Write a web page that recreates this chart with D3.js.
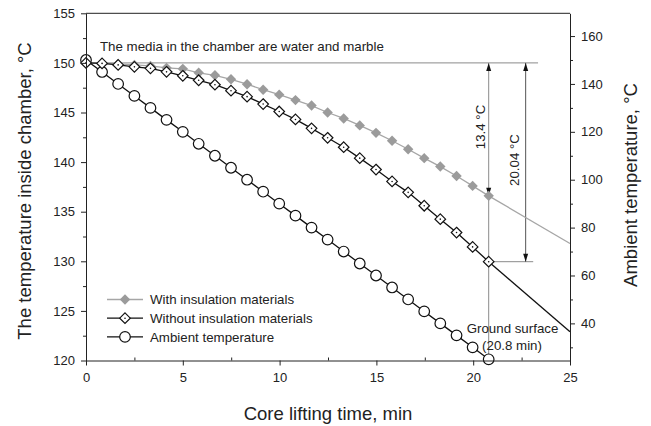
<!DOCTYPE html>
<html lang="en">
<head>
    <meta charset="UTF-8">
    <title>Chamber temperature vs core lifting time</title>
    <script src="https://d3js.org/d3.v7.min.js"></script>
    <style>
        body {
            margin: 0;
            background-color: #fff;
        }
        svg {
            font-family: Arial, "Liberation Sans", sans-serif;
        }
        .axis text {
            font-size: 13px;
            fill: #222;
        }
        .axis path, .axis line {
            stroke: #222;
        }
    </style>
</head>
<body>
    <div id="chart"></div>

    <script>
        // lifting time of each measured point, min
        const time = [0, 0.83, 1.66, 2.5, 3.33, 4.16, 5, 5.82, 6.66, 7.49, 8.32, 9.15, 9.98,
            10.82, 11.65, 12.48, 13.31, 14.14, 14.98, 15.81, 16.64, 17.47, 18.3, 19.14, 19.97, 20.8];
        // temperature inside the chamber, °C (left axis)
        const withInsulation = [150, 150, 149.9, 149.8, 149.7, 149.5, 149.4, 149.0, 148.75, 148.35, 147.85,
            147.3, 146.8, 146.25, 145.7, 145.0, 144.4, 143.7, 142.95, 142.15, 141.3, 140.4, 139.55, 138.6, 137.6, 136.6];
        const withoutInsulation = [150, 149.95, 149.8, 149.6, 149.45, 149.1, 148.7, 148.25, 147.8, 147.2, 146.6,
            145.85, 145.1, 144.3, 143.4, 142.45, 141.5, 140.4, 139.25, 138.05, 136.95, 135.6, 134.25, 132.9, 131.45, 129.96];
        // ambient temperature, °C (right axis)
        const ambient = [150, 145, 140, 135, 130, 125, 120, 115, 110, 105, 100, 95, 90,
            85, 80, 75, 70, 65, 60, 55, 50, 45, 40, 35, 30, 25];
        // trend lines carried on past the ground surface
        const extendTime = [20.8, 25];
        const withExtend = [136.6, 131.8];
        const withoutExtend = [129.96, 122.9];

        const leftTicks = [120, 125, 130, 135, 140, 145, 150, 155];
        const rightTicks = [40, 60, 80, 100, 120, 140, 160];
        const xTicks = [0, 5, 10, 15, 20, 25];

        const width = 651;
        const height = 426;
        const margin = { top: 13.3, right: 81, bottom: 65.5, left: 86 };

        const svg = d3.select("#chart")
            .append("svg")
            .attr("width", width)
            .attr("height", height);

        const x = d3.scaleLinear()
            .domain([0, 25])
            .range([margin.left, width - margin.right]);

        const y = d3.scaleLinear()
            .domain([120, 155])
            .range([height - margin.bottom, margin.top]);

        const y2 = d3.scaleLinear()
            .domain([24.5, 169.5])
            .range([height - margin.bottom, margin.top]);

        const x0 = margin.left, x1 = width - margin.right;
        const yTop = margin.top, yBot = height - margin.bottom;

        // top frame line
        svg.append("line")
            .attr("x1", x0).attr("x2", x1)
            .attr("y1", yTop).attr("y2", yTop)
            .attr("stroke", "#222");

        // annotation lines
        const annoColor = "#8a8a8a";
        svg.append("line")
            .attr("x1", x(0)).attr("x2", x(23.35))
            .attr("y1", y(150)).attr("y2", y(150))
            .attr("stroke", annoColor);
        svg.append("line")
            .attr("x1", x(20.8)).attr("x2", x(23.1))
            .attr("y1", y(129.96)).attr("y2", y(129.96))
            .attr("stroke", annoColor);
        svg.append("line")
            .attr("x1", x(20.8)).attr("x2", x(20.8))
            .attr("y1", y(150)).attr("y2", yBot)
            .attr("stroke", annoColor);
        svg.append("line")
            .attr("x1", x(22.71)).attr("x2", x(22.71))
            .attr("y1", y(150)).attr("y2", y(129.96))
            .attr("stroke", "#555");

        function arrowHead(xv, yv, dir) {
            const px = x(xv), py = y(yv);
            svg.append("path")
                .attr("d", `M${px},${py} L${px - 2.5},${py + dir * 8} L${px + 2.5},${py + dir * 8} Z`)
                .attr("fill", "#111");
        }
        arrowHead(20.8, 150, 1);
        arrowHead(20.8, 136.6, -1);
        arrowHead(22.71, 150, 1);
        arrowHead(22.71, 129.96, -1);

        // series lines
        const lineL = d3.line().x(d => x(d[0])).y(d => y(d[1]));
        const lineR = d3.line().x(d => x(d[0])).y(d => y2(d[1]));

        svg.append("path")
            .datum(d3.zip(extendTime, withExtend))
            .attr("d", lineL).attr("fill", "none")
            .attr("stroke", "#a6a6a6").attr("stroke-width", 1.3);
        svg.append("path")
            .datum(d3.zip(time, withInsulation))
            .attr("d", lineL).attr("fill", "none")
            .attr("stroke", "#a6a6a6").attr("stroke-width", 1.3);

        svg.append("path")
            .datum(d3.zip(extendTime, withoutExtend))
            .attr("d", lineL).attr("fill", "none")
            .attr("stroke", "#111").attr("stroke-width", 1.3);
        svg.append("path")
            .datum(d3.zip(time, withoutInsulation))
            .attr("d", lineL).attr("fill", "none")
            .attr("stroke", "#111").attr("stroke-width", 1.3);

        svg.append("path")
            .datum(d3.zip(time, ambient))
            .attr("d", lineR).attr("fill", "none")
            .attr("stroke", "#111").attr("stroke-width", 1.3);

        // markers
        const diamond = (r) => `M0,${-r} L${r},0 L0,${r} L${-r},0 Z`;

        function grayDiamond(g) {
            g.append("path").attr("d", diamond(5.2)).attr("fill", "#9b9b9b");
        }
        function openDiamond(g) {
            g.append("path").attr("d", diamond(5.3))
                .attr("fill", "#fff").attr("stroke", "#111").attr("stroke-width", 1.2);
            g.append("circle").attr("r", 0.8).attr("fill", "#111");
        }
        function openCircle(g) {
            g.append("circle").attr("r", 5.3)
                .attr("fill", "#fff").attr("stroke", "#111").attr("stroke-width", 1.2);
        }

        svg.append("g").selectAll("g")
            .data(d3.zip(time, withInsulation))
            .join("g")
            .attr("transform", d => `translate(${x(d[0])},${y(d[1])})`)
            .each(function() { grayDiamond(d3.select(this)); });

        svg.append("g").selectAll("g")
            .data(d3.zip(time, ambient))
            .join("g")
            .attr("transform", d => `translate(${x(d[0])},${y2(d[1])})`)
            .each(function() { openCircle(d3.select(this)); });

        svg.append("g").selectAll("g")
            .data(d3.zip(time, withoutInsulation))
            .join("g")
            .attr("transform", d => `translate(${x(d[0])},${y(d[1])})`)
            .each(function() { openDiamond(d3.select(this)); });

        // axes
        svg.append("g")
            .attr("class", "axis")
            .attr("transform", `translate(0,${yBot})`)
            .call(d3.axisBottom(x).tickValues(xTicks).tickSize(5).tickSizeOuter(0).tickPadding(7));
        svg.append("g")
            .attr("class", "axis")
            .attr("transform", `translate(0,${yBot})`)
            .call(d3.axisBottom(x).tickValues([2.5, 7.5, 12.5, 17.5, 22.5]).tickSize(-3).tickFormat(""))
            .call(g => g.select(".domain").remove());

        svg.append("g")
            .attr("class", "axis")
            .attr("transform", `translate(${x0},0)`)
            .call(d3.axisLeft(y).tickValues(leftTicks).tickSize(5).tickSizeOuter(0).tickPadding(6));
        svg.append("g")
            .attr("class", "axis")
            .attr("transform", `translate(${x0},0)`)
            .call(d3.axisLeft(y).tickValues([122.5, 127.5, 132.5, 137.5, 142.5, 147.5, 152.5]).tickSize(3).tickFormat(""))
            .call(g => g.select(".domain").remove());

        svg.append("g")
            .attr("class", "axis")
            .attr("transform", `translate(${x1},0)`)
            .call(d3.axisRight(y2).tickValues(rightTicks).tickSize(5).tickSizeOuter(0).tickPadding(6));
        svg.append("g")
            .attr("class", "axis")
            .attr("transform", `translate(${x1},0)`)
            .call(d3.axisRight(y2).tickValues([30, 50, 70, 90, 110, 130, 150]).tickSize(3).tickFormat(""))
            .call(g => g.select(".domain").remove());

        // axis titles
        const title = (tx, ty, rot, t) => svg.append("text")
            .attr("transform", `translate(${tx},${ty}) rotate(${rot})`)
            .attr("text-anchor", "middle")
            .style("font-size", "18.5px")
            .attr("fill", "#222")
            .text(t);

        title(31, 191, -90, "The temperature inside chamber, °C");
        title(637, 185, -90, "Ambient temperature, °C");
        title(328, 420, 0, "Core lifting time, min");

        // annotations
        const note = (tx, ty, t, anchor, rot) => svg.append("text")
            .attr("transform", `translate(${tx},${ty}) rotate(${rot || 0})`)
            .attr("text-anchor", anchor || "start")
            .style("font-size", "13.3px")
            .attr("fill", "#222")
            .text(t);

        note(100, 51, "The media in the chamber are water and marble");
        note(512.5, 333, "Ground surface", "middle");
        note(512, 350, "(20.8 min)", "middle");
        note(484.5, 127, "13.4 °C", "middle", -90);
        note(519, 160, "20.04 °C", "middle", -90);

        // legend
        const legendItems = [
            { label: "With insulation materials", color: "#a6a6a6", marker: grayDiamond },
            { label: "Without insulation materials", color: "#111", marker: openDiamond },
            { label: "Ambient temperature", color: "#111", marker: openCircle }
        ];
        const legend = svg.append("g").attr("transform", "translate(107,299.5)");
        legendItems.forEach((d, i) => {
            const row = legend.append("g").attr("transform", `translate(0,${i * 18.7})`);
            row.append("line")
                .attr("x1", 0).attr("x2", 36)
                .attr("stroke", d.color).attr("stroke-width", 1.3);
            const m = row.append("g").attr("transform", "translate(18,0)");
            d.marker(m);
            row.append("text")
                .attr("x", 43).attr("y", 4.7)
                .style("font-size", "13.3px")
                .attr("fill", "#222")
                .text(d.label);
        });
    </script>
</body>
</html>
